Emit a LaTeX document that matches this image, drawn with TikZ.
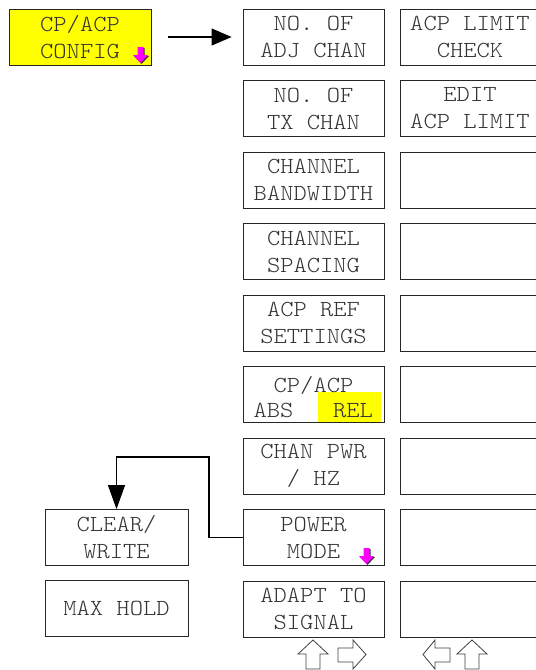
\documentclass[tikz,border=0pt]{standalone}
\usepackage{fontspec}
\newfontfamily\cour{Latin Modern Mono Light}[FakeStretch=1.1]
\usetikzlibrary{arrows.meta}
\definecolor{hl}{RGB}{255,255,0}
\definecolor{pinkarr}{RGB}{255,0,255}
\tikzset{
  keyfont/.style={font=\cour\fontsize{23}{27}\selectfont, text=black!80},
  softkey/.style={draw=black!85, line width=0.8pt, minimum width=141pt, minimum height=56pt,
    inner sep=0pt, align=center, keyfont},
  sidekey/.style={softkey, minimum width=140pt},
  conn/.style={line width=1.1pt, black},
  navarrow/.style={draw=black!75, line width=0.8pt, fill=white},
  pics/pinkdown/.style={code={
    \fill[black!80] (5.5,1)--(11.5,1)--(11.5,9)--(16,9)--(8.5,17)--(1,9)--(5.5,9)--cycle;
    \fill[pinkarr] (4.5,0)--(10.5,0)--(10.5,8)--(15,8)--(7.5,16)--(0,8)--(4.5,8)--cycle;
  }}
}
\begin{document}
\begin{tikzpicture}[x=1pt,y=-1pt]
\useasboundingbox (0,0) rectangle (536,670);
% top-left yellow key
\node[softkey, fill=hl, minimum width=142pt] (cfg) at (80,37) {CP/ACP\\CONFIG};
\pic at (133,47) {pinkdown};
% main column
\node[softkey] (adj) at (313.5,37) {NO. OF\\ADJ CHAN};
\node[softkey] (tx) at (313.5,108.5) {NO. OF\\TX CHAN};
\node[softkey] (bw) at (313.5,180) {CHANNEL\\BANDWIDTH};
\node[softkey] (sp) at (313.5,251.5) {CHANNEL\\SPACING};
\node[softkey] (ref) at (313.5,323) {ACP REF\\SETTINGS};
\node[softkey] (abs) at (313.5,394.5) {};
\fill[hl] (318,392) rectangle (381,422);
\node[keyfont, inner sep=0pt] (abst) at (313.5,385) {CP/ACP};
\node[keyfont, inner sep=0pt, anchor=base] (absl) at (273.5,417) {ABS};
\node[keyfont, inner sep=0pt, anchor=base] (rell) at (353,417) {REL};
\node[softkey] (pwr) at (313.5,466) {CHAN PWR\\/ HZ};
\node[softkey] (pm) at (313.5,537.5) {POWER\\MODE};
\pic at (359,548) {pinkdown};
\node[softkey] (adapt) at (313.5,609) {ADAPT TO\\SIGNAL};
% right column
\node[sidekey] (lim) at (470,37) {ACP LIMIT\\CHECK};
\node[sidekey] (edit) at (470,108.5) {EDIT\\ACP LIMIT};
\foreach \i [count=\n] in {2,...,8} {
  \node[sidekey] (r\n) at (470,{37+71.5*\i}) {};
}
% left sub menu
\node[softkey, minimum width=143pt] (cw) at (116.5,537.5) {CLEAR/\\WRITE};
\node[softkey, minimum width=143pt] (mh) at (116.5,608.5) {MAX HOLD};
% connectors
\draw[conn, -{Triangle[length=20pt,width=17pt]}, shorten <=17pt, shorten >=11pt] (cfg.east) -- (adj.west |- cfg.east);
\coordinate (bend) at (209,457);
\draw[conn, -{Triangle[length=24pt,width=17pt]}] (pm.west) -| (bend) -| (cw.north);
% navigation arrows
\draw[navarrow] (313,640)--(328,654)--(320,654)--(320,669)--(306,669)--(306,654)--(298,654)--cycle;
\draw[navarrow] (338,648)--(353,648)--(353,640)--(366,654.5)--(353,669)--(353,662)--(338,662)--cycle;
\draw[navarrow] (450,648)--(435,648)--(435,640)--(423,654.5)--(435,669)--(435,662)--(450,662)--cycle;
\draw[navarrow] (472,640)--(487,654)--(479,654)--(479,669)--(465,669)--(465,654)--(457,654)--cycle;
\end{tikzpicture}
\end{document}
